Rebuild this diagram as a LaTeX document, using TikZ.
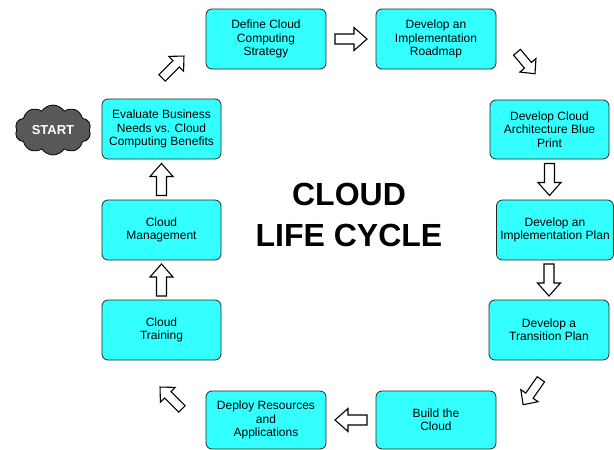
\documentclass[tikz,border=0pt]{standalone}
\usepackage{fontspec}
\setmainfont{Liberation Sans}
\usetikzlibrary{shapes.symbols,calc}
\definecolor{cyanbox}{RGB}{51,255,255}
\definecolor{cloudgray}{RGB}{88,88,88}
\tikzset{
  stepbox/.style={draw=black!85, line width=0.8pt, fill=cyanbox, rounded corners=6pt,
    minimum width=120pt, minimum height=60pt, align=center, inner sep=2pt,
    font=\fontsize{12}{13.3}\selectfont},
  barrow/.style={draw=black, line width=1.1pt, fill=white, line join=miter},
  titletext/.style={font=\fontsize{32}{41}\selectfont\bfseries, align=center},
}
% straight block arrow: center, angle, length
\newcommand{\blockarr}[3]{%
  \begin{scope}[shift={(#1)}, rotate=#2]
    \draw[barrow] (-#3/2,-5) -- ({#3/2-13},-5) -- ({#3/2-13},-11.5) -- (#3/2,0)
      -- ({#3/2-13},11.5) -- ({#3/2-13},5) -- (-#3/2,5) -- cycle;
  \end{scope}}
% diagonal block arrow (slightly smaller)
\newcommand{\diagarr}[3]{%
  \begin{scope}[shift={(#1)}, rotate=#2]
    \draw[barrow] (-#3/2,-4.5) -- ({#3/2-11},-4.5) -- ({#3/2-11},-10.5) -- (#3/2,0)
      -- ({#3/2-11},10.5) -- ({#3/2-11},4.5) -- (-#3/2,4.5) -- cycle;
  \end{scope}}
\begin{document}
\begin{tikzpicture}[x=1pt,y=-1pt]
\useasboundingbox (0,0) rectangle (614,450);
\node[stepbox, minimum width=119pt] (eval) at (161.5,129) {Evaluate Business\\Needs vs. Cloud\\Computing Benefits};
\node[stepbox] (def) at (266,39) {Define Cloud\\Computing\\Strategy};
\node[stepbox] (road) at (436,39) {Develop an\\Implementation\\Roadmap};
\node[stepbox, minimum width=119pt, minimum height=59pt] (arch) at (549.5,129.5) {Develop Cloud\\Architecture Blue\\Print};
\node[stepbox, minimum width=117pt] (iplan) at (555,230) {Develop an\\Implementation Plan};
\node[stepbox] (trans) at (549,330) {Develop a\\Transition Plan};
\node[stepbox, minimum height=58pt] (build) at (436,420) {Build the\\Cloud};
\node[stepbox, minimum height=58pt] (deploy) at (266,420) {Deploy Resources\\and\\Applications};
\node[stepbox, minimum width=119pt] (train) at (161.5,330) {Cloud\\Training};
\node[stepbox, minimum width=119pt] (mgmt) at (161.5,230) {Cloud\\Management};

\node[cloud, cloud puffs=10, cloud puff arc=115, aspect=1.55, draw=black, line width=0.8pt,
  fill=cloudgray, minimum width=76pt, minimum height=50pt, inner sep=0pt,
  text=white, font=\fontsize{13}{15}\selectfont\bfseries] (start) at (53,130) {START};

\node[titletext] (title) at (349,215) {CLOUD\\LIFE CYCLE};

% arrows between steps
\diagarr{173,67}{45}{31}
\blockarr{$(def.east)!0.5!(road.west)$}{0}{32}
\diagarr{526,63}{-50}{28}
\blockarr{$(arch.south)!0.5!(arch.south|-iplan.north)$}{-90}{32}
\blockarr{$(iplan.south-|trans.north)!0.5!(trans.north)$}{-90}{32}
\diagarr{532,392}{-125}{31}
\blockarr{$(build.west)!0.5!(deploy.east)$}{180}{32}
\diagarr{171,398}{135}{31}
\blockarr{$(train.north)!0.5!(mgmt.south)$}{90}{32}
\blockarr{$(mgmt.north)!0.5!(eval.south)$}{90}{32}
\end{tikzpicture}
\end{document}
